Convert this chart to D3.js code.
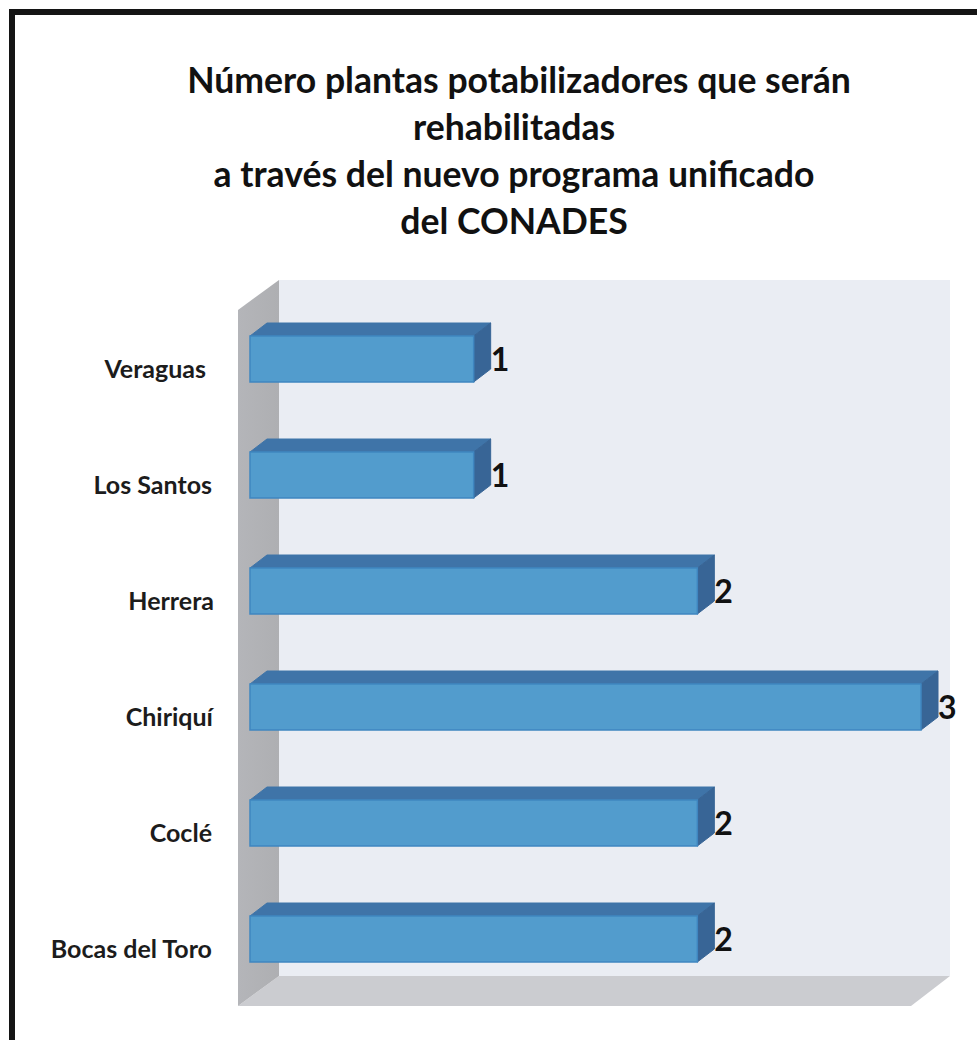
<!DOCTYPE html>
<html><head><meta charset="utf-8">
<script src="https://cdn.jsdelivr.net/npm/d3@7"></script>
<style>html,body{margin:0;padding:0;background:#fff}svg{display:block}text{font-family:Lato,"Open Sans",sans-serif;font-weight:700}</style>
</head><body><svg id="c" width="977" height="1040"></svg>
<script>
const categories=["Veraguas","Los Santos","Herrera","Chiriquí","Coclé","Bocas del Toro"];
const values=[1,1,2,3,2,2];
const titleLines=["Número plantas potabilizadores que serán","rehabilitadas","a través del nuevo programa unificado","del CONADES"];

const svg=d3.select("#c");
svg.append("path").attr("d","M12,1040V12H977").attr("fill","none").attr("stroke","#141414").attr("stroke-width",6);

const x=d3.scaleLinear().domain([0,3]).range([250,921]);
const y=d3.scaleBand().domain(categories).range([336,962]).paddingInner(70/116).paddingOuter(0);
const dx=17,dy=-13;
const wx=41,wy=-30;
const wallL=238,wallB=1006,wallT=310,floorR=911;
const labelNudge={"Veraguas":-6,"Herrera":2,"Chiriquí":1};

const defs=svg.append("defs");
const g1=defs.append("linearGradient").attr("id","wall").attr("x1",0).attr("x2",1);
g1.append("stop").attr("offset",0).attr("stop-color","#b4b5b9");
g1.append("stop").attr("offset",1).attr("stop-color","#aeafb2");

svg.append("path").attr("d",`M${wallL+wx},${wallT+wy}H${floorR+wx-2}V${wallB+wy}H${wallL+wx}Z`).attr("fill","#eaedf3");
svg.append("path").attr("d",`M${wallL},${wallB}L${wallL+wx},${wallB+wy}H${floorR+wx-2}L${floorR},${wallB}Z`).attr("fill","#cbccd0");
svg.append("path").attr("d",`M${wallL},${wallT}L${wallL+wx},${wallT+wy}V${wallB+wy}L${wallL},${wallB}Z`).attr("fill","url(#wall)");

const rows=categories.map((c,i)=>({c,v:values[i]}));
const bars=svg.append("g").selectAll("g").data(rows).join("g");
const bw=()=>y.bandwidth();
bars.append("path").attr("fill","#3f74a8").attr("stroke","#3f74a8").attr("stroke-width",1)
 .attr("d",d=>`M${x(0)},${y(d.c)}l${dx},${dy}H${x(d.v)+dx}l${-dx},${-dy}Z`);
bars.append("path").attr("fill","#386596").attr("stroke","#386596").attr("stroke-width",1)
 .attr("d",d=>`M${x(d.v)},${y(d.c)}l${dx},${dy}v${bw()}l${-dx},${-dy}Z`);
bars.append("rect").attr("fill","#529ccd").attr("stroke","#3f86c0").attr("stroke-width",1.5)
 .attr("x",x(0)).attr("y",d=>y(d.c)).attr("height",bw()).attr("width",d=>x(d.v)-x(0));
bars.append("text").attr("x",d=>x(d.v)+17).attr("y",d=>y(d.c)+bw()/2+12)
 .attr("font-size",32).attr("fill","#111").text(d=>d.v);
bars.append("text").attr("x",d=>212+(labelNudge[d.c]||0)).attr("y",d=>y(d.c)+bw()/2+18.5).attr("text-anchor","end")
 .attr("font-size",25).attr("fill","#1c1c1c").text(d=>d.c);
svg.append("g").selectAll("text").data(titleLines).join("text")
 .attr("x",(d,i)=>i===0?519:514).attr("y",(d,i)=>93+i*47).attr("text-anchor","middle")
 .attr("font-size",35.6).attr("fill","#111").text(d=>d);
</script></body></html>
